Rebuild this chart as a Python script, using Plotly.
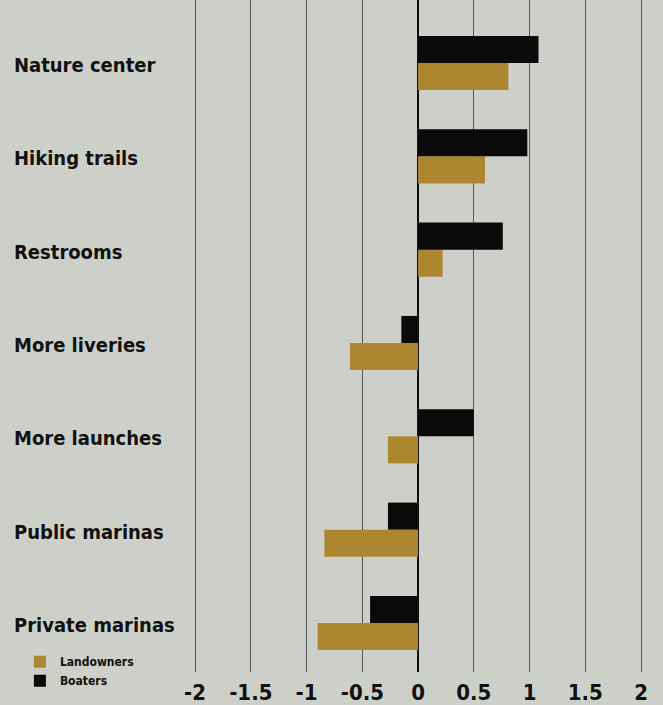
import plotly.graph_objects as go

categories = ["Nature center", "Hiking trails", "Restrooms", "More liveries",
              "More launches", "Public marinas", "Private marinas"]
boaters = [1.08, 0.98, 0.76, -0.15, 0.50, -0.27, -0.43]
landowners = [0.81, 0.60, 0.22, -0.61, -0.27, -0.84, -0.90]
tick_vals = [-2, -1.5, -1, -0.5, 0, 0.5, 1, 1.5, 2]
tick_text = ["-2", "-1.5", "-1", "-0.5", "0", "0.5", "1", "1.5", "2"]

FONT = "DejaVu Sans Condensed, Liberation Sans Narrow, sans-serif"
BG = "#cdd0c8"
GOLD = "#ad8630"

fig = go.Figure()
fig.add_trace(go.Bar(y=categories, x=landowners, orientation="h", name="Landowners",
                     marker=dict(color=GOLD, line=dict(width=0))))
fig.add_trace(go.Bar(y=categories, x=boaters, orientation="h", name="Boaters",
                     marker=dict(color="#0a0a0a", line=dict(width=0))))

for c in categories:
    fig.add_annotation(x=-0.369, xref="paper", xanchor="left",
                       y=c, yref="y", yanchor="middle", yshift=-2, text=c, showarrow=False,
                       font=dict(family=FONT, size=20, color="#111111", weight="bold"))

fig.update_layout(
    width=663, height=705,
    margin=dict(l=185, r=10, t=0, b=33, autoexpand=False),
    paper_bgcolor=BG, plot_bgcolor=BG,
    barmode="group", bargap=0.42, bargroupgap=0,
    font=dict(family=FONT, color="#111111"),
    showlegend=True,
    legend=dict(x=0.03, xref="container", y=0.082, yref="container",
                xanchor="left", yanchor="top", bgcolor="rgba(0,0,0,0)",
                font=dict(family=FONT, size=12, color="#111111", weight="bold"),
                itemwidth=30, tracegroupgap=0),
    xaxis=dict(range=[-2.09, 2.107], tickvals=tick_vals, ticktext=tick_text,
               showgrid=True, gridcolor="#555555", gridwidth=1,
               zeroline=True, zerolinecolor="#111111", zerolinewidth=1.5,
               showline=False, ticks="", automargin=False, ticklabelstandoff=5,
               tickfont=dict(family=FONT, size=22, color="#111111", weight="bold")),
    yaxis=dict(categoryorder="array", categoryarray=categories[::-1],
               range=[-0.525, 6.675], showticklabels=False, showgrid=False,
               zeroline=False, showline=False, ticks="", automargin=False),
)

fig.write_html("out.html", config={"displayModeBar": False},
               post_script="document.body.style.margin='0';")
